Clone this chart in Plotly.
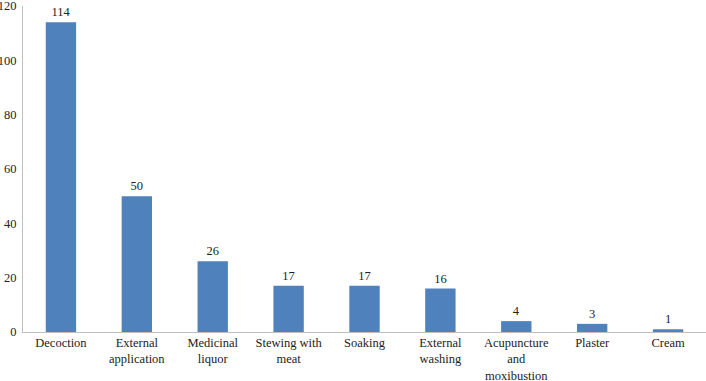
import plotly.graph_objects as go

categories = ["Decoction", "External<br>application", "Medicinal<br>liquor", "Stewing with<br>meat",
              "Soaking", "External<br>washing", "Acupuncture<br>and<br>moxibustion", "Plaster", "Cream"]
values = [114, 50, 26, 17, 17, 16, 4, 3, 1]
y_ticks = [0, 20, 40, 60, 80, 100, 120]

font = dict(family="Times New Roman, Liberation Serif, serif", size=12.5, color="#222")

fig = go.Figure(go.Bar(
    x=categories, y=values, text=[str(v) for v in values], textposition="outside",
    marker=dict(color="#4F81BD", line=dict(width=0)), cliponaxis=False,
    textfont=font,
))
fig.update_layout(
    width=706, height=381, margin=dict(l=23, r=0, t=6, b=49),
    plot_bgcolor="white", paper_bgcolor="white", bargap=0.6, showlegend=False,
    font=font,
)
fig.update_xaxes(showline=True, linecolor="#BFBFBF", linewidth=1, ticks="", tickfont=font,
                 ticklabelstandoff=-1, automargin=False)
fig.update_yaxes(range=[0, 120], tickvals=y_ticks, showgrid=False, zeroline=False,
                 showline=True, linecolor="#BFBFBF", linewidth=1, ticks="", tickfont=font,
                 ticklabelstandoff=3, automargin=False, ticklabeloverflow="allow")
fig.write_html("out.html", config={"displayModeBar": False},
               post_script="document.body.style.margin='0';")
